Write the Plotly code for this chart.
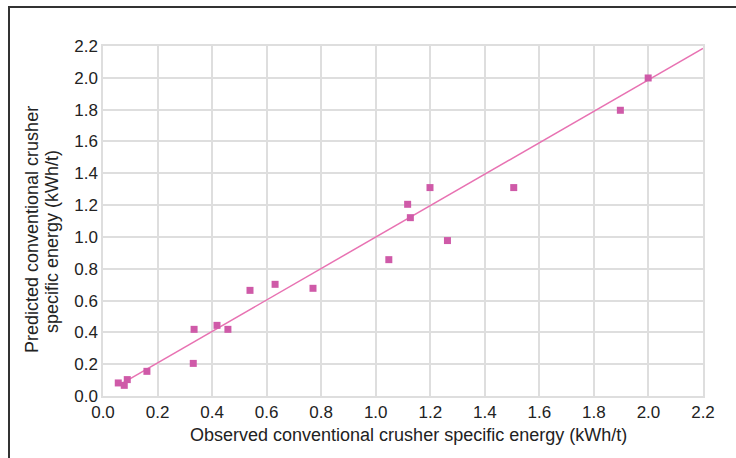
import plotly.graph_objects as go

observed = [0.056, 0.078, 0.089, 0.161, 0.331, 0.334, 0.418, 0.458, 0.539, 0.631,
            0.770, 1.048, 1.117, 1.127, 1.199, 1.263, 1.506, 1.897, 1.999]
predicted = [0.082, 0.067, 0.103, 0.155, 0.205, 0.419, 0.444, 0.419, 0.664, 0.702,
             0.677, 0.857, 1.205, 1.121, 1.310, 0.977, 1.310, 1.796, 1.999]
fit_x = [0.062, 2.2]
fit_y = [0.072, 2.185]
tick_vals = [0.0, 0.2, 0.4, 0.6, 0.8, 1.0, 1.2, 1.4, 1.6, 1.8, 2.0, 2.2]
tick_text = ["0.0", "0.2", "0.4", "0.6", "0.8", "1.0", "1.2", "1.4", "1.6", "1.8", "2.0", "2.2"]

FONT = "Liberation Sans, Arial, sans-serif"
GRID = "#dedede"
TXT = "#222"

# plot area in page pixels: x 103..703, y 46..396
def px(x):
    return (x - 103) / 600

def py(y):
    return (396 - y) / 350

fig = go.Figure()
fig.add_trace(go.Scatter(x=fit_x, y=fit_y, mode="lines",
                         line=dict(color="#e872b2", width=1.5), showlegend=False))
fig.add_trace(go.Scatter(x=observed, y=predicted, mode="markers",
                         marker=dict(symbol="square", size=7, color="#cf5aa8"),
                         showlegend=False))

axis_common = dict(range=[0, 2.2], tickvals=tick_vals, ticktext=tick_text,
                   showgrid=True, gridcolor=GRID, gridwidth=1.5,
                   showline=True, linecolor=GRID, linewidth=1.5, mirror=True,
                   zeroline=False, ticks="", fixedrange=True,
                   tickfont=dict(family=FONT, size=17, color=TXT))
fig.update_xaxes(**axis_common)
fig.update_yaxes(**axis_common)

fig.update_layout(
    width=736, height=458,
    margin=dict(l=103, r=33, t=46, b=62),
    paper_bgcolor="white", plot_bgcolor="white",
    font=dict(family=FONT, color=TXT),
    annotations=[
        dict(text="Observed conventional crusher specific energy (kWh/t)",
             xref="paper", yref="paper", x=px(408), y=py(435),
             showarrow=False, font=dict(size=18, family=FONT, color=TXT),
             xanchor="center", yanchor="middle"),
        dict(text="Predicted conventional crusher",
             xref="paper", yref="paper", x=px(32), y=py(230),
             showarrow=False, textangle=-90,
             font=dict(size=18, family=FONT, color=TXT),
             xanchor="center", yanchor="middle"),
        dict(text="specific energy (kWh/t)",
             xref="paper", yref="paper", x=px(52), y=py(241),
             showarrow=False, textangle=-90,
             font=dict(size=18, family=FONT, color=TXT),
             xanchor="center", yanchor="middle"),
    ],
    shapes=[
        dict(type="line", xref="paper", yref="paper",
             x0=px(8), x1=px(740), y0=py(7), y1=py(7),
             line=dict(color="#333", width=2)),
        dict(type="line", xref="paper", yref="paper",
             x0=px(9), x1=px(9), y0=py(6), y1=py(462),
             line=dict(color="#333", width=2)),
    ],
)

fig.write_html("out.html", config={"displayModeBar": False},
               post_script="document.body.style.margin='0';document.body.style.overflow='hidden';")
